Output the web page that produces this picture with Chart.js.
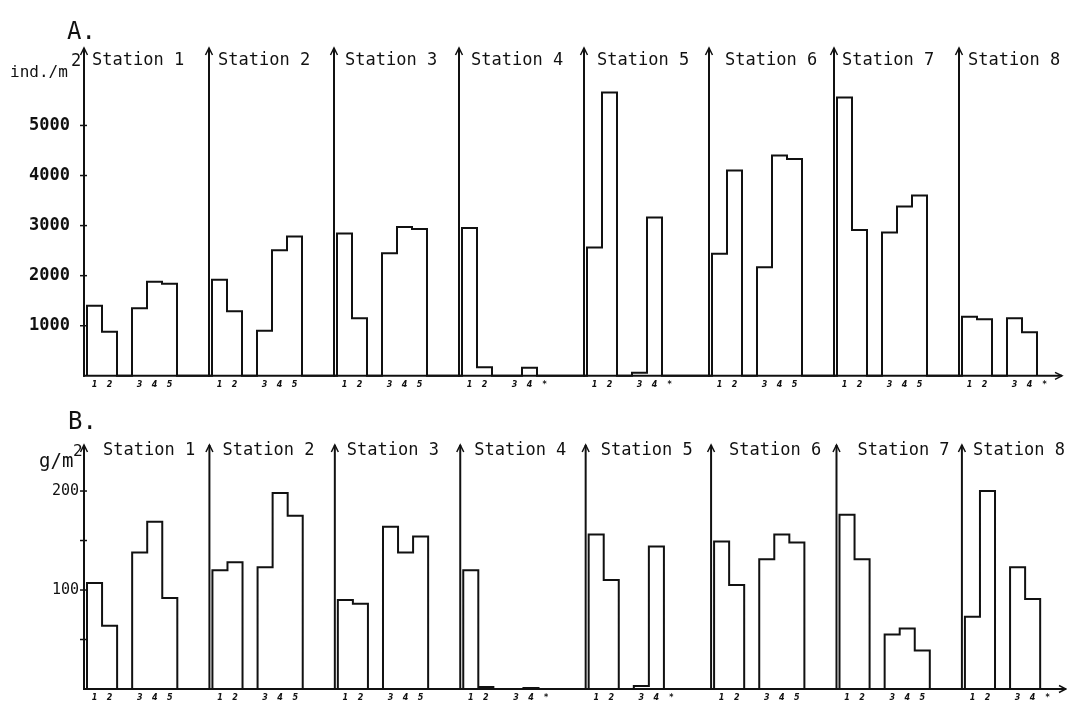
<!DOCTYPE html>
<html>
<head>
<meta charset="utf-8">
<script src="https://cdn.jsdelivr.net/npm/chart.js@4.4.0/dist/chart.umd.min.js"></script>
<style>
  html, body { margin: 0; padding: 0; background: #fff; }
  #wrap { position: relative; width: 1067px; height: 703px; overflow: hidden; }
  canvas { position: absolute; left: 0; }
</style>
</head>
<body>
<div id="wrap">
  <canvas id="chartA" width="1067" height="400" style="top:0px"></canvas>
  <canvas id="chartB" width="1067" height="303" style="top:400px"></canvas>
</div>
<script>
// ---------------- DATA ----------------
const stations = ['Station 1', 'Station 2', 'Station 3', 'Station 4',
                  'Station 5', 'Station 6', 'Station 7', 'Station 8'];
const sampleLabels = ['1', '2', '3', '4', '5'];
const missingSampleLabel = '*';

// A. abundance, ind./m2 (samples 1..5; null = no sample)
const abundanceStation1 = [1400, 880, 1350, 1880, 1840];
const abundanceStation2 = [1920, 1290, 900, 2510, 2780];
const abundanceStation3 = [2840, 1150, 2450, 2970, 2930];
const abundanceStation4 = [2950, 170, 0, 160, null];
const abundanceStation5 = [2560, 5660, 60, 3160, null];
const abundanceStation6 = [2440, 4100, 2170, 4400, 4330];
const abundanceStation7 = [5560, 2910, 2860, 3380, 3600];
const abundanceStation8 = [1180, 1130, 1150, 870, null];

// B. biomass, g/m2
const biomassStation1 = [107, 64, 138, 169, 92];
const biomassStation2 = [120, 128, 123, 198, 175];
const biomassStation3 = [90, 86, 164, 138, 154];
const biomassStation4 = [120, 2, 0, 1, null];
const biomassStation5 = [156, 110, 3, 144, null];
const biomassStation6 = [149, 105, 131, 156, 148];
const biomassStation7 = [176, 131, 55, 61, 39];
const biomassStation8 = [73, 200, 123, 91, null];

const abundanceTicks = [1000, 2000, 3000, 4000, 5000];
const abundanceTickLabels = ['1000', '2000', '3000', '4000', '5000'];
const biomassTicks = [50, 100, 150, 200];
const biomassTickLabels = ['', '100', '', '200'];

const abundanceByStation = [abundanceStation1, abundanceStation2, abundanceStation3, abundanceStation4,
                            abundanceStation5, abundanceStation6, abundanceStation7, abundanceStation8];
const biomassByStation = [biomassStation1, biomassStation2, biomassStation3, biomassStation4,
                          biomassStation5, biomassStation6, biomassStation7, biomassStation8];

// ---------------- LAYOUT (station units on x) ----------------
const BAR_W = 0.12;      // width of one sample bar, in station spacings
const FIRST = 0.024;     // gap between station axis and first bar
const slotOf = j => (j < 2 ? j : j + 1);   // samples 1,2 | gap | 3,4,5
const barLeft = (s, j) => s + FIRST + slotOf(j) * BAR_W;
const barCenter = (s, j) => barLeft(s, j) + BAR_W / 2;

function outlinePoints(byStation) {
  const pts = [];
  byStation.forEach((vals, s) => {
    [[0, 1], [2, 3, 4]].forEach(group => {
      pts.push({ x: barLeft(s, group[0]), y: 0 });
      group.forEach(j => {
        if (vals[j] == null) return;
        pts.push({ x: barLeft(s, j) + BAR_W, y: vals[j] });
      });
      pts.push({ x: pts[pts.length - 1].x, y: 0 });
    });
  });
  return pts;
}

function xTickList(byStation) {
  const list = [];
  byStation.forEach((vals, s) => {
    vals.forEach((v, j) => {
      list.push({ value: barCenter(s, j), label: v == null ? missingSampleLabel : sampleLabels[j] });
    });
  });
  return list;
}

const INK = '#111';
const MONO = "'DejaVu Sans Mono', monospace";

function framePlugin(cfg) {
  return {
    id: 'frame' + cfg.key,
    afterDraw(chart) {
      const ctx = chart.ctx;
      const x = chart.scales.x, y = chart.scales.y;
      const y0 = y.getPixelForValue(0);
      const yTop = chart.chartArea.top;
      ctx.save();
      ctx.strokeStyle = INK;
      ctx.fillStyle = INK;
      ctx.lineWidth = 2;
      ctx.lineCap = 'butt';
      // baseline with arrow
      const xEnd = x.getPixelForValue(x.max);
      ctx.beginPath();
      ctx.moveTo(x.getPixelForValue(0) - 1, y0);
      ctx.lineTo(xEnd, y0);
      ctx.stroke();
      ctx.lineWidth = 1.5;
      ctx.beginPath();
      ctx.moveTo(xEnd - 7, y0 - 3.5);
      ctx.lineTo(xEnd, y0);
      ctx.lineTo(xEnd - 7, y0 + 3.5);
      ctx.stroke();
      // station axes with arrows and names
      ctx.font = '17px ' + MONO;
      ctx.textBaseline = 'middle';
      ctx.textAlign = 'left';
      stations.forEach((name, s) => {
        const px = x.getPixelForValue(s);
        ctx.lineWidth = 2;
        ctx.beginPath();
        ctx.moveTo(px, y0 + 1);
        ctx.lineTo(px, yTop);
        ctx.stroke();
        ctx.lineWidth = 1.5;
        ctx.beginPath();
        ctx.moveTo(px - 3.5, yTop + 7);
        ctx.lineTo(px, yTop);
        ctx.lineTo(px + 3.5, yTop + 7);
        ctx.stroke();
        ctx.fillText(name, px + cfg.labelOffsets[s], cfg.labelY);
      });
      // y tick marks on first station axis
      const ax = x.getPixelForValue(0);
      ctx.lineWidth = 1.5;
      cfg.tickValues.forEach(v => {
        const py = y.getPixelForValue(v);
        ctx.beginPath();
        ctx.moveTo(ax - 4, py);
        ctx.lineTo(ax + 3, py);
        ctx.stroke();
      });
      // panel letter and unit
      ctx.font = '24px ' + MONO;
      ctx.fillText(cfg.letter, cfg.letterX, cfg.letterY);
      ctx.font = cfg.unitFont;
      ctx.fillText(cfg.unit, cfg.unitX, cfg.unitY);
      ctx.font = cfg.supFont;
      ctx.fillText('2', cfg.supX, cfg.supY);
      ctx.restore();
    }
  };
}

function makeChart(canvasId, cfg) {
  const ticksX = xTickList(cfg.byStation);
  return new Chart(document.getElementById(canvasId), {
    type: 'line',
    data: {
      datasets: [{
        data: outlinePoints(cfg.byStation),
        stepped: 'after',
        borderColor: INK,
        borderWidth: 2,
        borderJoinStyle: 'miter',
        pointRadius: 0,
        fill: false,
        clip: false
      }]
    },
    options: {
      responsive: false,
      animation: false,
      events: [],
      layout: { padding: { top: cfg.padTop, right: cfg.padRight, bottom: 0, left: 0 } },
      plugins: { legend: { display: false }, tooltip: { enabled: false } },
      scales: {
        x: {
          type: 'linear',
          min: 0,
          max: cfg.xMax,
          border: { display: false },
          grid: { display: false, drawTicks: false },
          afterFit: s => { s.height = cfg.xHeight; },
          afterBuildTicks: s => { s.ticks = ticksX.map(t => ({ value: t.value })); },
          ticks: {
            autoSkip: false, maxRotation: 0, minRotation: 0, padding: 4,
            color: INK,
            font: { family: "'DejaVu Sans'", size: 8, style: 'italic', weight: 'bold' },
            callback: (v, i) => ticksX[i] ? ticksX[i].label : ''
          }
        },
        y: {
          type: 'linear',
          min: 0,
          max: cfg.yMax,
          border: { display: false },
          grid: { display: false, drawTicks: false },
          afterFit: s => { s.width = 84; },
          afterBuildTicks: s => { s.ticks = cfg.tickValues.map(v => ({ value: v })); },
          ticks: {
            autoSkip: false, padding: cfg.yPad, color: INK,
            font: cfg.yFont,
            callback: (v, i) => cfg.tickLabels[i]
          }
        }
      }
    },
    plugins: [framePlugin(cfg)]
  });
}

makeChart('chartA', {
  key: 'A',
  byStation: abundanceByStation,
  tickValues: abundanceTicks,
  tickLabels: abundanceTickLabels,
  padTop: 48, padRight: 5, xHeight: 23,
  xMax: 7.824, yMax: 6547,
  yPad: 14,
  yFont: { family: MONO, size: 17, weight: 'bold' },
  labelOffsets: [8, 9, 11, 12, 13, 16, 8, 9],
  labelY: 61,
  letter: 'A.', letterX: 67, letterY: 33,
  unit: 'ind./m', unitFont: '16px ' + MONO, unitX: 10, unitY: 73,
  supFont: '17px ' + MONO, supX: 71, supY: 62
});

makeChart('chartB', {
  key: 'B',
  byStation: biomassByStation,
  tickValues: biomassTicks,
  tickLabels: biomassTickLabels,
  padTop: 45, padRight: 1, xHeight: 14,
  xMax: 7.83, yMax: 246.5,
  yPad: 5,
  yFont: { family: MONO, size: 15 },
  labelOffsets: [19, 13, 12, 14, 15, 18, 21, 11],
  labelY: 51,
  letter: 'B.', letterX: 68, letterY: 23,
  unit: 'g/m', unitFont: '19px ' + MONO, unitX: 39, unitY: 62,
  supFont: '16px ' + MONO, supX: 73, supY: 52
});
</script>
</body>
</html>
